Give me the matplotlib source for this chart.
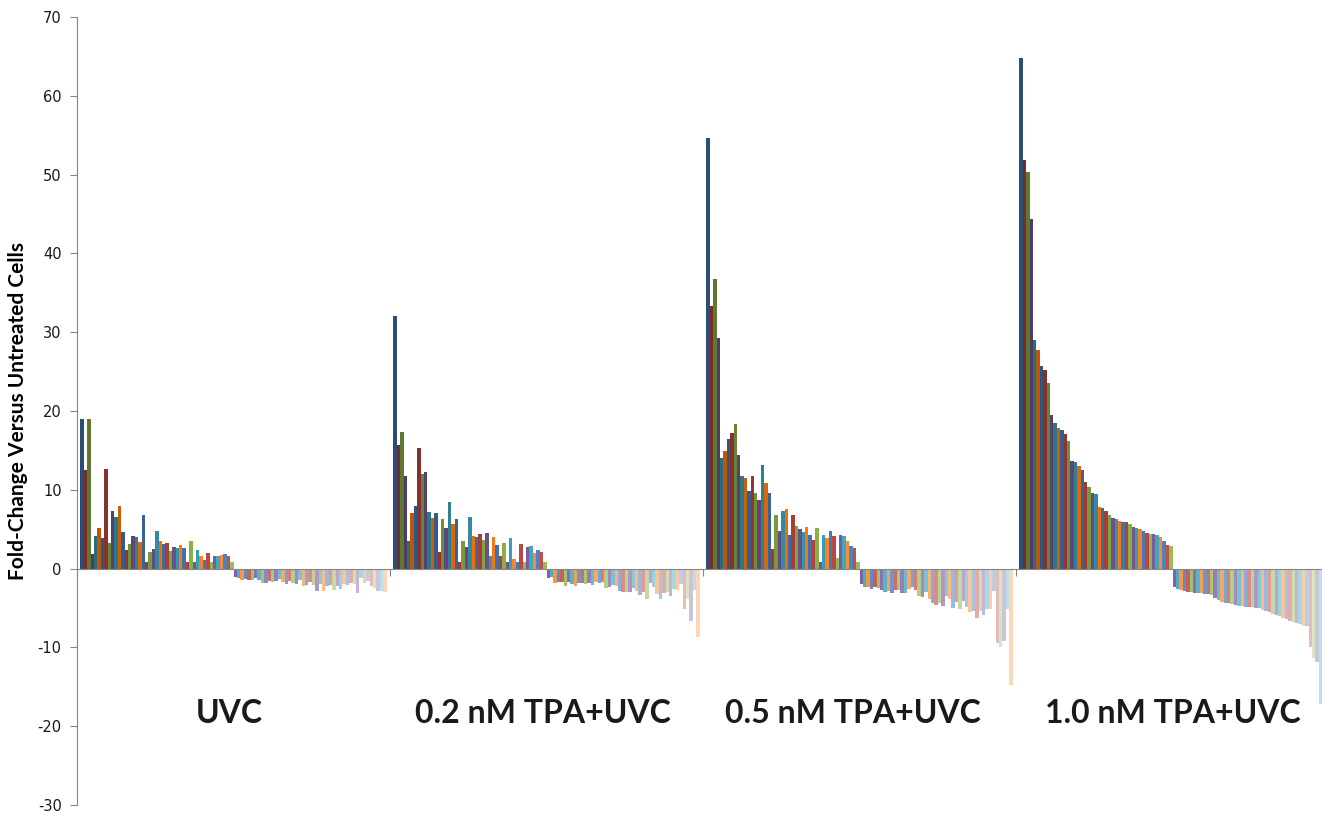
import colorsys
import numpy as np
import matplotlib
matplotlib.use('Agg')
import matplotlib.pyplot as plt
from matplotlib.colors import to_rgb

plt.rcParams['axes.unicode_minus'] = False

# treatment groups (x categories)
groups = ['UVC', '0.2 nM TPA+UVC', '0.5 nM TPA+UVC', '1.0 nM TPA+UVC']

# fold-change of each gene (one series per gene)
uvc = [19.0, 12.5, 19.0, 1.8, 4.15, 5.1, 3.9, 12.65, 3.25, 7.35,
       6.6, 8.0, 4.65, 2.3, 3.15, 4.15, 3.95, 3.4, 6.8, 0.9,
       2.05, 2.5, 4.8, 3.45, 3.15, 3.25, 2.2, 2.75, 2.6, 2.95,
       2.6, 0.9, 3.45, 0.9, 2.35, 1.55, 1.15, 2.0, 0.9, 1.55,
       1.55, 1.7, 1.8, 1.55, 0.9,
       -1.1, -1.23, -1.4, -1.27, -1.48, -1.44, -1.23, -1.4, -1.86, -1.86,
       -1.52, -1.65, -1.52, -1.31, -1.73, -1.95, -1.52, -1.82, -1.95, -1.48,
       -2.16, -2.07, -1.73, -2.03, -2.79, -1.95, -2.83, -2.24, -2.07, -2.66,
       -2.16, -2.58, -1.9, -2.03, -1.82, -1.95, -3.09, -1.18, -1.82, -1.57,
       -2.16, -2.5, -2.88, -2.88, -2.92]

tpa_02 = [32.1, 15.7, 17.3, 11.8, 3.45, 7.0, 7.9, 15.3, 12.0, 12.2,
          7.2, 6.45, 7.1, 2.15, 6.25, 5.1, 8.4, 5.6, 6.25, 0.85,
          3.55, 2.8, 6.55, 4.1, 4.0, 4.4, 3.65, 4.5, 1.6, 4.05,
          3.0, 1.6, 3.3, 0.85, 3.85, 1.2, 0.85, 3.1, 0.85, 2.7,
          2.9, 1.95, 2.35, 2.05, 0.85,
          -1.23, -1.06, -1.86, -1.73, -1.73, -2.16, -1.73, -1.95, -2.24, -1.86,
          -1.86, -1.95, -1.82, -2.07, -1.73, -1.82, -1.73, -2.5, -2.37, -2.03,
          -2.16, -2.83, -2.92, -2.96, -2.96, -2.5, -2.83, -3.38, -2.92, -3.89,
          -1.82, -2.33, -3.26, -3.89, -3.05, -2.92, -3.51, -2.58, -2.66, -1.99,
          -5.08, -3.81, -6.68, -2.66, -8.63]

tpa_05 = [54.6, 33.3, 36.7, 29.3, 14.0, 14.95, 16.45, 17.25, 18.3, 14.45,
          11.75, 11.55, 9.9, 11.7, 9.6, 8.75, 13.15, 10.8, 9.6, 2.45,
          6.75, 4.8, 7.3, 7.55, 4.25, 6.75, 5.4, 5.0, 4.65, 5.3,
          4.25, 3.65, 5.2, 0.85, 4.3, 3.9, 4.8, 4.1, 1.4, 4.3,
          4.2, 3.55, 2.9, 2.6, 0.85,
          -1.95, -2.37, -2.37, -2.58, -2.37, -2.5, -2.71, -2.96, -2.79, -3.05,
          -2.71, -2.71, -3.13, -3.05, -2.58, -2.37, -2.71, -3.47, -3.55, -2.96,
          -3.89, -4.4, -4.65, -4.31, -4.74, -3.47, -3.81, -4.99, -4.23, -5.16,
          -4.1, -4.91, -5.5, -5.41, -6.26, -5.33, -5.84, -5.08, -5.08, -2.88,
          -9.48, -9.94, -9.22, -5.08, -14.76]

tpa_10 = [64.8, 51.9, 50.3, 44.4, 29.0, 27.7, 25.7, 25.2, 23.6, 19.5,
          18.5, 17.85, 17.6, 17.1, 16.15, 13.7, 13.5, 13.0, 12.5, 11.0,
          10.4, 9.6, 9.5, 7.85, 7.65, 7.25, 6.85, 6.4, 6.25, 6.0,
          5.9, 5.9, 5.65, 5.25, 5.1, 5.0, 4.8, 4.5, 4.4, 4.35,
          4.25, 4.0, 3.45, 3.0, 2.9,
          -2.33, -2.58, -2.71, -2.79, -2.92, -2.96, -3.05, -3.13, -3.13, -3.21,
          -3.26, -3.3, -3.68, -4.02, -4.23, -4.36, -4.4, -4.48, -4.61, -4.74,
          -4.78, -4.82, -4.86, -4.91, -4.95, -5.03, -5.2, -5.37, -5.54, -5.71,
          -5.84, -6.05, -6.22, -6.39, -6.6, -6.73, -6.94, -7.06, -7.23, -7.32,
          -9.94, -11.38, -11.89, -17.2, -17.6]

yticks = [-30, -20, -10, 0, 10, 20, 30, 40, 50, 60, 70]

# office 2007 theme accents, varied darker -> lighter per cycle like excel does
accents = ['#4F81BD', '#C0504D', '#9BBB59', '#8064A2', '#4BACC6', '#F79646']


def series_color(i, n):
    h, l, s = colorsys.rgb_to_hls(*to_rgb(accents[i % 6]))
    ncycle = (n - 1) // 6 + 1
    f = (i // 6 + 1) / (ncycle + 1) - 0.5
    if f < 0:
        l = l * (1 + 0.9 * f)
    else:
        l = l + (1 - l) * 1.4 * f
    return colorsys.hls_to_rgb(h, l, s)


values = np.array([uvc, tpa_02, tpa_05, tpa_10])
n = values.shape[1]

fig = plt.figure(figsize=(13.22, 8.14), dpi=100)
# plot area runs a bit past the right edge of the picture (last bars are cut)
ax = fig.add_axes([77 / 1322, 9 / 814, 1252 / 1322, 788 / 814])

w = 1.0 / (n + 2)
x = np.arange(len(groups))
for i in range(n):
    ax.bar(x + w * (1 + i), values[:, i], width=w, align='edge',
           color=series_color(i, n), linewidth=0)

ax.set_xlim(0, len(groups))
ax.set_ylim(yticks[0], yticks[-1])
ax.set_yticks(yticks)
ax.set_xticks(np.arange(len(groups) + 1))
ax.set_xticklabels([])

grey = '#868686'
for side in ['top', 'right']:
    ax.spines[side].set_visible(False)
ax.spines['left'].set_color(grey)
ax.spines['bottom'].set_color(grey)
ax.spines['bottom'].set_position(('data', 0))
ax.tick_params(axis='y', direction='out', length=5, color=grey,
               labelsize=10.5, labelcolor='#1a1a1a', pad=6)
ax.tick_params(axis='x', direction='out', length=5, color=grey)

ax.set_ylabel('Fold-Change Versus Untreated Cells', fontsize=15,
              fontweight='bold', family='Lato')
ax.yaxis.set_label_coords((28 - 77) / 1252, 0.5)

# group captions sit low, inside the plot (text boxes in the original)
label_x = [0.486, 1.487, 2.478, 3.50]
for lx, name in zip(label_x, groups):
    ax.text(lx, -18.45, name, ha='center', va='center',
            fontsize=23, fontweight='bold', family='Lato', color='#1a1a1a')

fig.savefig('out.png', dpi=100)
